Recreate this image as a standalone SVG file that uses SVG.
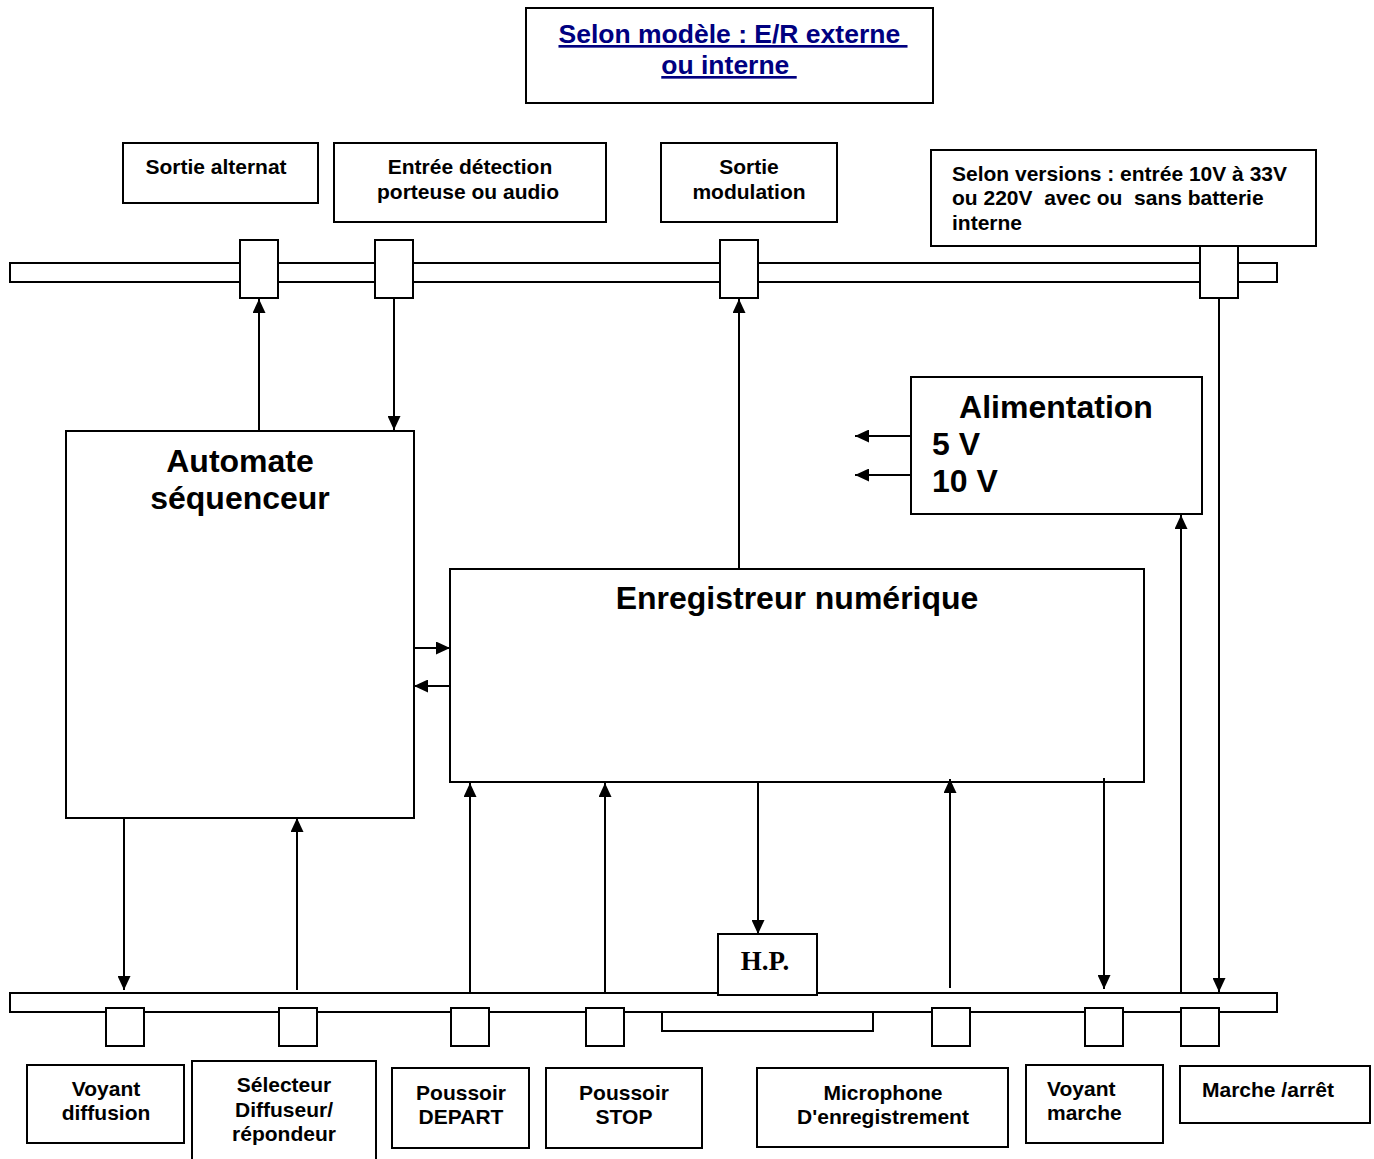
<svg xmlns="http://www.w3.org/2000/svg" width="1374" height="1159" viewBox="0 0 1374 1159">
<style>
.box{fill:#fff;stroke:#000;stroke-width:2}
.ln{stroke:#000;stroke-width:2;fill:none}
.t{font-family:"Liberation Sans",Arial,sans-serif;font-weight:bold;font-size:21px;fill:#000}
.big{font-family:"Liberation Sans",Arial,sans-serif;font-weight:bold;font-size:32px;fill:#000}
.c{text-anchor:middle}
.title{font-family:"Liberation Sans",Arial,sans-serif;font-weight:bold;font-size:26.5px;fill:#000080;text-decoration:underline;text-anchor:middle}
</style>
<defs>
<marker id="ah" markerUnits="userSpaceOnUse" markerWidth="14" markerHeight="13" refX="14" refY="6.5" orient="auto" viewBox="0 0 14 13">
<path d="M0,0 L14,6.5 L0,13 z" fill="#000"/>
</marker>
</defs>

<g id="title">
<rect class="box" x="526" y="8" width="407" height="95"/>
<text class="title" x="733" y="43">Selon modèle : E/R externe&#160;</text>
<text class="title" x="729" y="74">ou interne&#160;</text>
</g>

<g id="buses">
<rect class="box" x="10" y="263" width="1267" height="19"/>
<rect class="box" x="10" y="993" width="1267" height="19"/>
<rect class="box" x="662" y="1012" width="211" height="19"/>
</g>

<g id="top-ports">
<rect class="box" x="240" y="240" width="38" height="58"/>
<rect class="box" x="375" y="240" width="38" height="58"/>
<rect class="box" x="720" y="240" width="38" height="58"/>
<rect class="box" x="1200" y="246" width="38" height="52"/>
</g>

<g id="bottom-ports">
<rect class="box" x="106" y="1008" width="38" height="38"/>
<rect class="box" x="279" y="1008" width="38" height="38"/>
<rect class="box" x="451" y="1008" width="38" height="38"/>
<rect class="box" x="586" y="1008" width="38" height="38"/>
<rect class="box" x="932" y="1008" width="38" height="38"/>
<rect class="box" x="1085" y="1008" width="38" height="38"/>
<rect class="box" x="1181" y="1008" width="38" height="38"/>
</g>

<g id="sortie-alternat">
<rect class="box" x="123" y="143" width="195" height="60"/>
<text class="t c" x="216" y="174">Sortie alternat</text>
</g>
<g id="entree-detection">
<rect class="box" x="334" y="143" width="272" height="79"/>
<text class="t c" x="470" y="174">Entrée détection</text>
<text class="t c" x="468" y="199">porteuse ou audio</text>
</g>
<g id="sortie-modulation">
<rect class="box" x="661" y="143" width="176" height="79"/>
<text class="t c" x="749" y="174">Sortie</text>
<text class="t c" x="749" y="199">modulation</text>
</g>
<g id="selon-versions">
<rect class="box" x="931" y="150" width="385" height="96"/>
<text class="t" x="952" y="181">Selon versions : entrée 10V à 33V</text>
<text class="t" x="952" y="205" xml:space="preserve">ou 220V  avec ou  sans batterie</text>
<text class="t" x="952" y="230">interne</text>
</g>

<g id="automate">
<rect class="box" x="66" y="431" width="348" height="387"/>
<text class="big c" x="240" y="472">Automate</text>
<text class="big c" x="240" y="509">séquenceur</text>
</g>

<g id="enregistreur">
<rect class="box" x="450" y="569" width="694" height="213"/>
<text class="big c" x="797" y="609">Enregistreur numérique</text>
</g>

<g id="alimentation">
<rect class="box" x="911" y="377" width="291" height="137"/>
<text class="big c" x="1056" y="418">Alimentation</text>
<text class="big" x="932" y="455">5 V</text>
<text class="big" x="932" y="492">10 V</text>
</g>

<g id="hp">
<rect class="box" x="718" y="934" width="99" height="61"/>
<text x="765" y="970" text-anchor="middle" font-family="'Liberation Serif','Times New Roman',serif" font-weight="bold" font-size="27">H.P.</text>
</g>

<g id="voyant-diffusion">
<rect class="box" x="27" y="1065" width="157" height="78"/>
<text class="t c" x="106" y="1096">Voyant</text>
<text class="t c" x="106" y="1120">diffusion</text>
</g>
<g id="selecteur">
<rect class="box" x="192" y="1061" width="184" height="110"/>
<text class="t c" x="284" y="1092">Sélecteur</text>
<text class="t c" x="284" y="1117">Diffuseur/</text>
<text class="t c" x="284" y="1141">répondeur</text>
</g>
<g id="poussoir-depart">
<rect class="box" x="392" y="1068" width="137" height="80"/>
<text class="t c" x="461" y="1100">Poussoir</text>
<text class="t c" x="461" y="1124">DEPART</text>
</g>
<g id="poussoir-stop">
<rect class="box" x="546" y="1068" width="156" height="80"/>
<text class="t c" x="624" y="1100">Poussoir</text>
<text class="t c" x="624" y="1124">STOP</text>
</g>
<g id="microphone">
<rect class="box" x="757" y="1068" width="251" height="79"/>
<text class="t c" x="883" y="1100">Microphone</text>
<text class="t c" x="883" y="1124">D'enregistrement</text>
</g>
<g id="voyant-marche">
<rect class="box" x="1026" y="1065" width="137" height="78"/>
<text class="t" x="1047" y="1096">Voyant</text>
<text class="t" x="1047" y="1120">marche</text>
</g>
<g id="marche-arret">
<rect class="box" x="1180" y="1066" width="190" height="57"/>
<text class="t" x="1202" y="1097">Marche /arrêt</text>
</g>

<g id="connectors">
<line class="ln" x1="259" y1="430" x2="259" y2="299" marker-end="url(#ah)"/>
<line class="ln" x1="394" y1="298" x2="394" y2="430" marker-end="url(#ah)"/>
<line class="ln" x1="739" y1="568" x2="739" y2="299" marker-end="url(#ah)"/>
<line class="ln" x1="910" y1="436" x2="855" y2="436" marker-end="url(#ah)"/>
<line class="ln" x1="910" y1="475" x2="855" y2="475" marker-end="url(#ah)"/>
<line class="ln" x1="414" y1="648" x2="450" y2="648" marker-end="url(#ah)"/>
<line class="ln" x1="450" y1="686" x2="414" y2="686" marker-end="url(#ah)"/>
<line class="ln" x1="124" y1="818" x2="124" y2="990" marker-end="url(#ah)"/>
<line class="ln" x1="297" y1="990" x2="297" y2="818" marker-end="url(#ah)"/>
<line class="ln" x1="470" y1="992" x2="470" y2="783" marker-end="url(#ah)"/>
<line class="ln" x1="605" y1="992" x2="605" y2="783" marker-end="url(#ah)"/>
<line class="ln" x1="758" y1="783" x2="758" y2="934" marker-end="url(#ah)"/>
<line class="ln" x1="950" y1="988" x2="950" y2="779" marker-end="url(#ah)"/>
<line class="ln" x1="1104" y1="778" x2="1104" y2="989" marker-end="url(#ah)"/>
<line class="ln" x1="1181" y1="993" x2="1181" y2="515" marker-end="url(#ah)"/>
<line class="ln" x1="1219" y1="298" x2="1219" y2="992" marker-end="url(#ah)"/>
</g>
</svg>
